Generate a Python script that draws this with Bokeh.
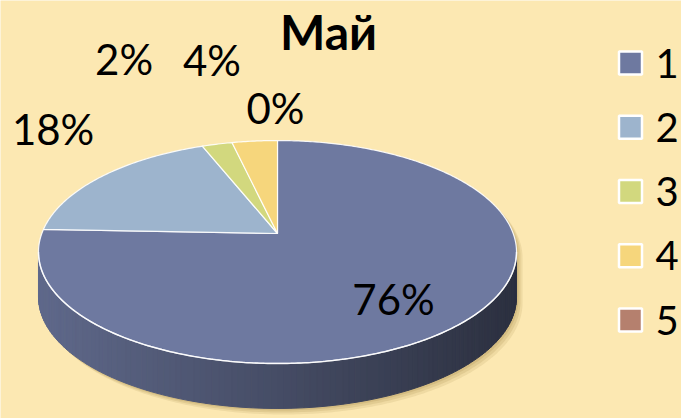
import math
import numpy as np
from bokeh.plotting import figure
from bokeh.core.properties import value
from bokeh.embed import file_html
from bokeh.resources import INLINE

# ---------------- data ----------------
title_text = "Май"
categories = ["1", "2", "3", "4", "5"]
shares = [75.6, 18.4, 2.4, 3.6, 0.0]
top_colors = ["#6E79A0", "#9DB4CD", "#D2D87E", "#F6D67C", "#B5806E"]
pct_labels = [f"{round(v):.0f}%" for v in shares]

# ---------------- layout / style ----------------
W, H = 681, 418
BG = "#FCE8B2"
CX, CY = 277.0, 233.0          # apex of the pie (pixels, y down)
A, B, K = 108.4, 235.7, 0.166  # perspective ellipse parameters
DEPTH = 45.0
FONT = "Lato"

label_radius = [0.68, 1.3, 1.3, 1.3, 1.3]
label_nudge = [(-5, -8), (-2, 32), (-78, 63), (-37, 58), (-2, 10)]


def proj(t_deg, f=1.0):
    t = math.radians(t_deg)
    X, Z = f * math.cos(t), f * math.sin(t)
    den = 1 + K * Z
    px = CX + B * X / den
    py = CY - A * Z / den
    return px, H - py


def arc(t0, t1, n=None):
    if n is None:
        n = max(3, int(abs(t1 - t0) * 1.5) + 2)
    ts = np.linspace(t0, t1, n)
    pts = [proj(t) for t in ts]
    return [p[0] for p in pts], [p[1] for p in pts]


def shade(hex_color, f):
    h = hex_color.lstrip("#")
    r, g, b = (int(h[i:i + 2], 16) for i in (0, 2, 4))
    return "#%02x%02x%02x" % (int(r * f), int(g * f), int(b * f))


total = sum(shares)
bounds = []
start = 90.0
for v in shares:
    sweep = v / total * 360.0
    bounds.append((start, start - sweep))
    start -= sweep


def slice_of(t):
    off = (90.0 - t) % 360.0
    acc = 0.0
    for i, v in enumerate(shares):
        acc += v / total * 360.0
        if off <= acc and v > 0:
            return i
    return 0


p = figure(width=W, height=H, x_range=(0, W), y_range=(0, H),
           output_backend="svg", toolbar_location=None, min_border=0)
p.axis.visible = False
p.grid.visible = False
p.outline_line_color = None
p.background_fill_color = BG
p.border_fill_color = BG

# silhouette (for shadow)
a_k = math.degrees(math.asin(K))
t_left, t_right = 180.0 + a_k, 360.0 - a_k
bx, by = arc(t_right - 360.0, t_left)
fx, fy = arc(t_left, t_right)
sil_x = bx + fx
sil_y = by + [y - DEPTH for y in fy]
for off, alpha in [(6, 0.25), (4, 0.35), (2, 0.5)]:
    p.patch([x + off for x in sil_x], [y - off for y in sil_y],
            fill_color="#C8AE72", fill_alpha=alpha, line_color=None)

# side wall with horizontal gradient
N = 120
ts = np.linspace(t_left, t_right, N + 1)
xmin, xmax = proj(t_left)[0], proj(t_right)[0]
xs_side, ys_side, cs_side = [], [], []
for i in range(N):
    ta, tb = ts[i], ts[i + 1]
    xa, ya = proj(ta)
    xb, yb = proj(tb)
    u = ((xa + xb) / 2 - xmin) / (xmax - xmin)
    fct = 0.87 - 0.47 * u
    col = shade(top_colors[slice_of((ta + tb) / 2)], fct)
    xs_side.append([xa, xb, xb, xa])
    ys_side.append([ya, yb, yb - DEPTH, ya - DEPTH])
    cs_side.append(col)
p.patches(xs_side, ys_side, fill_color=cs_side, line_color=cs_side, line_width=1)

# top slices
ax, ay = proj(0, 0.0)
for (t0, t1), col, v in zip(bounds, top_colors, shares):
    if v <= 0:
        continue
    xs, ys = arc(t0, t1)
    p.patch([ax] + xs, [ay] + ys, fill_color=col, line_color="white",
            line_width=1.2, line_alpha=0.9)

# white rim on front edge
rx, ry = arc(t_left, t_right)
p.line(rx, ry, line_color="white", line_width=1.5, line_alpha=0.85)

# percentage labels
for (t0, t1), lab, f, (nx, ny) in zip(bounds, pct_labels, label_radius, label_nudge):
    tm = (t0 + t1) / 2
    lx, ly = proj(tm, f)
    p.text([lx + nx], [ly + ny], text=[lab], text_font=value(FONT),
           text_font_size="42px", text_align="center", text_baseline="middle",
           text_color="black")

# title
p.text([328], [H - 31], text=[title_text], text_font=value(FONT),
       text_font_size="48px", text_font_style="bold", text_align="center",
       text_baseline="middle", text_color="black")

# legend
LEG_X, LEG_Y0, LEG_DY = 630, 62.5, 64.25
for i, (cat, col) in enumerate(zip(categories, top_colors)):
    yy = H - (LEG_Y0 + i * LEG_DY)
    p.rect([LEG_X], [yy], width=23, height=23, fill_color=col,
           line_color="white", line_width=2.5)
    p.text([LEG_X + 25], [yy], text=[cat], text_font=value(FONT),
           text_font_size="40px", text_align="left", text_baseline="middle",
           text_color="black")

open("out.html", "w").write(file_html(p, INLINE))
